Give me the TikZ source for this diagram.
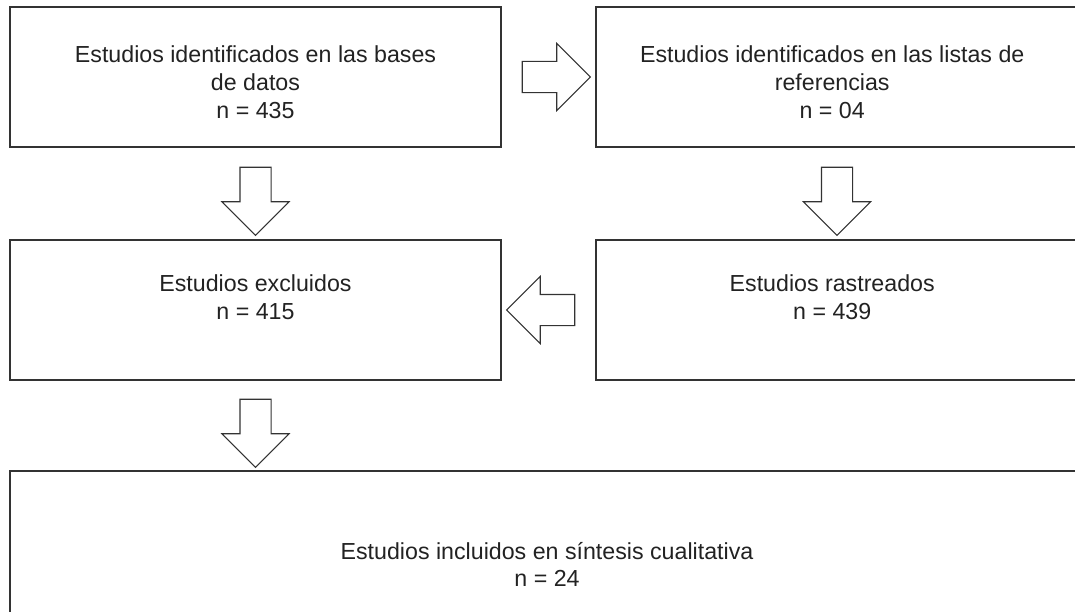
\documentclass[tikz,border=0pt]{standalone}
\usepackage{fontspec}
\setmainfont{Liberation Sans}
\usetikzlibrary{shapes.arrows,calc}
\definecolor{boxline}{HTML}{333333}
\definecolor{boxtext}{HTML}{222222}
\begin{document}
\begin{tikzpicture}[
  x=0.025cm, y=-0.025cm,
  stage box/.style={
    draw=boxline,
    line width=1.3pt,
    rectangle,
    inner sep=0pt
  },
  stage text/.style={
    align=center,
    text=boxtext,
    inner sep=0pt,
    font=\fontsize{16.5}{19.6}\selectfont
  },
  flow arrow/.style={
    single arrow,
    draw=boxline,
    line width=0.75pt,
    fill=white,
    inner xsep=0pt,
    inner ysep=0.375cm,
    single arrow head extend=0.45cm,
    minimum height=1.7cm
  }
]
\useasboundingbox (0,0) rectangle (1075,611);
\clip (0,0) rectangle (1075,611);
% the boxes on the right and at the bottom run past the page edge
\node[stage box,minimum width=12.275cm,minimum height=3.5cm,
  label={[stage text,name=identtext,yshift=-0.13cm]center:Estudios identificados en las bases\\de datos\\n = 435}]
  (ident) at (255.5,77) {};
\node[stage box,minimum width=12.05cm,minimum height=3.5cm,
  label={[stage text,name=refstext,yshift=-0.13cm,xshift=-0.12cm]center:Estudios identificados en las listas de\\referencias\\n = 04}]
  (refs) at (837,77) {};
\node[stage box,minimum width=12.275cm,minimum height=3.5cm,
  label={[stage text,name=excltext,yshift=0.32cm]center:Estudios excluidos\\n = 415}]
  (excl) at (255.5,310) {};
\node[stage box,minimum width=12.05cm,minimum height=3.5cm,
  label={[stage text,name=tracktext,yshift=0.32cm,xshift=-0.12cm]center:Estudios rastreados\\n = 439}]
  (track) at (837,310) {};
\node[stage box,minimum width=26.85cm,minimum height=4.475cm,
  label={[stage text,name=incltext,yshift=-0.1cm]center:Estudios incluidos en síntesis cualitativa\\n = 24}]
  (incl) at (547,560.5) {};

\node[flow arrow] (identrefs) at ($(ident.east)!0.5!(refs.west)$) {};
\node[flow arrow,rotate=-90] (identexcl) at ($(ident.south)!0.5!(excl.north)$) {};
\node[flow arrow,rotate=-90] (refstrack) at ($(refs.south)!0.5!(track.north)$) {};
\node[flow arrow,rotate=180] (trackexcl) at ($(track.west)!0.5!(excl.east)$) {};
\node[flow arrow,rotate=-90] (exclincl) at ($(excl.south)!0.5!(excl.south |- incl.north)$) {};
\end{tikzpicture}
\end{document}
